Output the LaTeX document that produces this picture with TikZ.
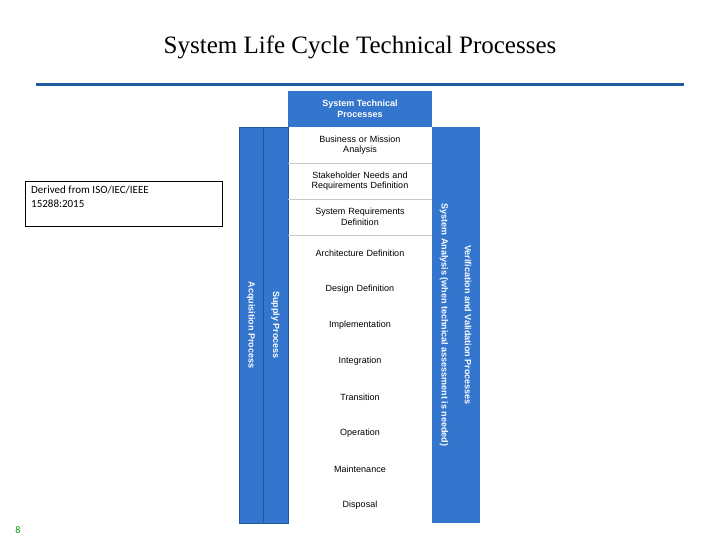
\documentclass[tikz,border=0pt]{standalone}
\usepackage{fontspec}
\setmainfont{Liberation Serif}
\newfontfamily\arial{Liberation Sans}
\newfontfamily\calib{Carlito}
\definecolor{sblue}{HTML}{3475CD}
\definecolor{lineblue}{HTML}{1F5A9E}
\definecolor{sepgray}{HTML}{C8C8C8}
\begin{document}
\begin{tikzpicture}[x=1pt,y=-1pt,
  col/.style={fill=sblue,draw=lineblue,line width=0.6pt},
  proc/.style={font=\arial\fontsize{9}{10.5}\selectfont,align=center,text width=140pt},
  vtxt/.style={font=\arial\bfseries\fontsize{9}{10.5}\selectfont,text=white,rotate=-90}]
\useasboundingbox (0,0) rectangle (720,540);
\node (title) at (360,47) {\fontsize{25}{30}\selectfont System Life Cycle Technical Processes};
\draw[lineblue,line width=3pt] (36,85) -- (684,85);
\node[draw,line width=0.6pt,minimum width=197pt,minimum height=45pt,inner sep=0pt] (src) at (123.5,203.5) {};
\node[anchor=north west,align=left,font=\calib\fontsize{11}{14}\selectfont,inner sep=0pt] (srct) at (31,186) {Derived from ISO/IEC/IEEE\\15288:2015};
\node[font=\calib\fontsize{10}{12}\selectfont,text=green!60!black] (pg) at (18,530) {8};
% columns
\fill[col] (239,127) rectangle (263,523);
\fill[col] (263,127) rectangle (288,523);
\draw[lineblue,line width=0.6pt] (239,127) rectangle (288,523) (263,127) -- (263,523);
\fill[sblue] (432,127) rectangle (480,523);
\fill[sblue] (288,91) rectangle (432,127);
\node[font=\arial\bfseries\fontsize{9}{11}\selectfont,text=white,align=center] (hdr) at (360,109) {System Technical\\Processes};
\foreach \y in {163,199,235} \draw[sepgray,line width=0.8pt] (288,\y) -- (432,\y);
\node[vtxt] (acq) at (251,325) {Acquisition Process};
\node[vtxt] (sup) at (275.5,325) {Supply Process};
\node[vtxt] (sa) at (444,325) {System Analysis (when technical assessment is needed)};
\node[vtxt] (vv) at (468,325) {Verification and Validation Processes};
\node[proc] (p1) at (360,145) {Business or Mission\\Analysis};
\node[proc] (p2) at (360,181) {Stakeholder Needs and\\Requirements Definition};
\node[proc] (p3) at (360,217) {System Requirements\\Definition};
\node[proc] (p4) at (360,253) {Architecture Definition};
\node[proc] (p5) at (360,289) {Design Definition};
\node[proc] (p6) at (360,325) {Implementation};
\node[proc] (p7) at (360,361) {Integration};
\node[proc] (p8) at (360,397) {Transition};
\node[proc] (p9) at (360,433) {Operation};
\node[proc] (p10) at (360,469) {Maintenance};
\node[proc] (p11) at (360,505) {Disposal};
\end{tikzpicture}
\end{document}
